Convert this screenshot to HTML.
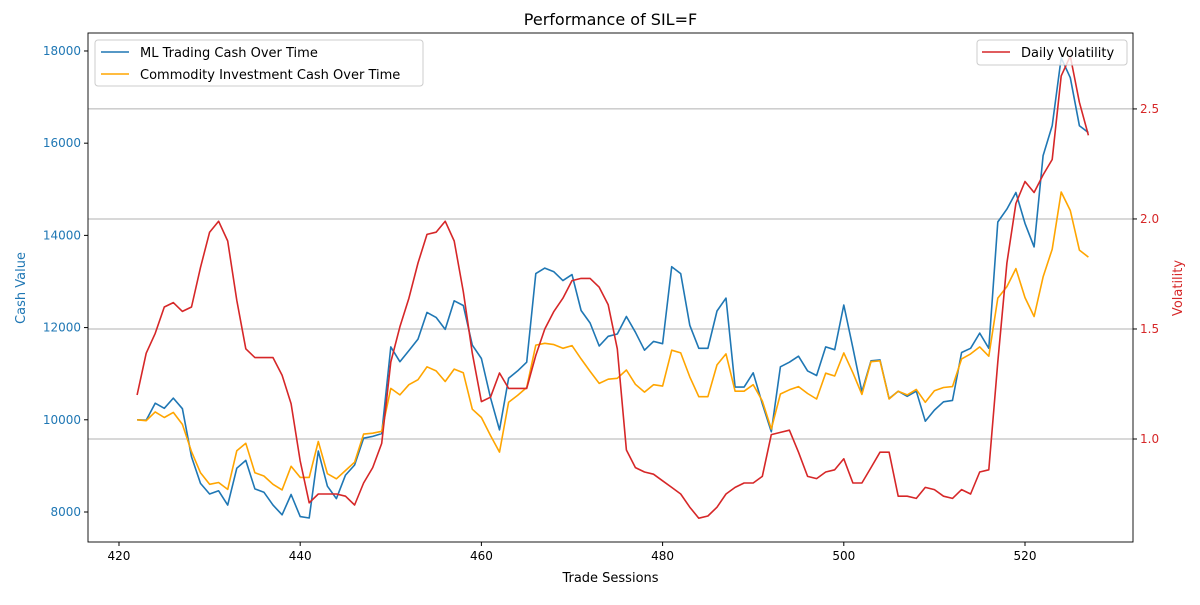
<!DOCTYPE html>
<html><head><meta charset="utf-8"><style>
body{margin:0;background:#fff;font-family:"Liberation Sans","DejaVu Sans",sans-serif}
svg text{font-family:"DejaVu Sans","Liberation Sans",sans-serif}
</style></head><body>
<svg id="chart" width="1200" height="600" xmlns="http://www.w3.org/2000/svg"></svg>
<script>
const startSession = 422;
const mlCash = [10000,9990,10360,10250,10470,10240,9200,8620,8390,8460,8150,8950,9120,8500,8430,8150,7940,8380,7900,7870,9320,8560,8290,8800,9020,9600,9640,9700,11580,11260,11500,11750,12330,12220,11960,12580,12480,11620,11330,10480,9780,10900,11060,11250,13170,13290,13210,13020,13150,12370,12100,11600,11810,11860,12240,11900,11510,11700,11650,13320,13170,12050,11550,11550,12360,12640,10710,10710,11020,10350,9740,11150,11250,11380,11060,10960,11580,11520,12490,11560,10610,11280,11300,10460,10620,10510,10620,9970,10210,10390,10420,11460,11550,11880,11550,14290,14570,14930,14260,13750,15730,16380,17850,17420,16380,16230];
const commodityCash = [10000,9980,10170,10050,10160,9900,9310,8850,8600,8640,8490,9330,9490,8850,8780,8600,8480,8990,8750,8750,9530,8830,8720,8900,9080,9690,9710,9750,10680,10540,10760,10870,11150,11060,10830,11100,11020,10230,10050,9660,9300,10380,10530,10700,11620,11660,11630,11550,11610,11320,11050,10790,10880,10900,11080,10770,10600,10760,10730,11510,11450,10930,10500,10500,11190,11430,10620,10620,10760,10410,9800,10560,10650,10720,10570,10450,11010,10950,11450,11020,10550,11260,11280,10450,10620,10540,10660,10380,10630,10700,10720,11320,11430,11580,11380,12640,12890,13280,12650,12240,13100,13700,14940,14540,13680,13530];
const volatility = [1.20,1.39,1.48,1.60,1.62,1.58,1.60,1.78,1.94,1.99,1.90,1.63,1.41,1.37,1.37,1.37,1.29,1.16,0.90,0.71,0.75,0.75,0.75,0.74,0.70,0.80,0.87,0.98,1.35,1.51,1.64,1.80,1.93,1.94,1.99,1.90,1.67,1.39,1.17,1.19,1.30,1.23,1.23,1.23,1.38,1.50,1.58,1.64,1.72,1.73,1.73,1.69,1.61,1.41,0.95,0.87,0.85,0.84,0.81,0.78,0.75,0.69,0.64,0.65,0.69,0.75,0.78,0.80,0.80,0.83,1.02,1.03,1.04,0.94,0.83,0.82,0.85,0.86,0.91,0.80,0.80,0.87,0.94,0.94,0.74,0.74,0.73,0.78,0.77,0.74,0.73,0.77,0.75,0.85,0.86,1.35,1.80,2.07,2.17,2.12,2.20,2.27,2.65,2.74,2.53,2.38];
const xTicks = [420,440,460,480,500,520];
const yLeftTicks = [8000,10000,12000,14000,16000,18000];
const yRightTicks = [1.0,1.5,2.0,2.5];

const L=88,R=1133,T=33,B=542;
const X=v=>L+(v-416.58)/(531.92-416.58)*(R-L);
const YL=v=>B-(v-7349)/(18390-7349)*(B-T);
const YR=v=>B-(v-0.532)/(2.845-0.532)*(B-T);
const svg=document.getElementById('chart');
const NS='http://www.w3.org/2000/svg';
function mk(tag,attrs,parent){const e=document.createElementNS(NS,tag);for(const k in attrs)e.setAttribute(k,attrs[k]);(parent||svg).appendChild(e);return e;}
function txt(s,attrs){const e=mk('text',attrs);e.textContent=s;return e;}

// grid (right axis)
yRightTicks.forEach(v=>{const g=mk('line',{x1:L,x2:R,y1:YR(v),y2:YR(v),stroke:'#b0b0b0','stroke-width':1});

});

function series(vals,yf,color,name){
  const d=vals.map((v,i)=>(i?'L':'M')+X(startSession+i).toFixed(1)+','+yf(v).toFixed(1)).join('');
  const p=mk('path',{d:d,fill:'none',stroke:color,'stroke-width':1.6,'stroke-linejoin':'round'});
  
  
}
series(mlCash,YL,'#1f77b4','ml-cash-line');
series(commodityCash,YL,'#ffa500','commodity-cash-line');
series(volatility,YR,'#d62728','volatility-line');

mk('rect',{x:L,y:T,width:R-L,height:B-T,fill:'none',stroke:'#000','stroke-width':0.9});

xTicks.forEach(v=>{const x=X(v);mk('line',{x1:x,x2:x,y1:B,y2:B+4,stroke:'#000'});
const t=txt(v,{x:x,y:B+18,'font-size':12,'text-anchor':'middle',fill:'#000'});

});
yLeftTicks.forEach(v=>{const y=YL(v);mk('line',{x1:L-4,x2:L,y1:y,y2:y,stroke:'#000'});
const t=txt(v,{x:L-7,y:y+4,'font-size':12,'text-anchor':'end',fill:'#1f77b4'});

});
yRightTicks.forEach(v=>{const y=YR(v);mk('line',{x1:R,x2:R+4,y1:y,y2:y,stroke:'#000'});
const t=txt(v.toFixed(1),{x:R+7,y:y+4,'font-size':12,'text-anchor':'start',fill:'#d62728'});

});

let t;
t=txt('Performance of SIL=F',{x:(L+R)/2,y:25,'font-size':16,'text-anchor':'middle',fill:'#000'});

t=txt('Trade Sessions',{x:(L+R)/2,y:582,'font-size':13,'text-anchor':'middle',fill:'#000'});

t=txt('Cash Value',{x:0,y:0,'font-size':13,'text-anchor':'middle',fill:'#1f77b4',transform:'translate(25,288) rotate(-90)'});

t=txt('Volatility',{x:0,y:0,'font-size':13,'text-anchor':'middle',fill:'#d62728',transform:'translate(1182,288) rotate(-90)'});


// legends
let lg=mk('g',{});

mk('rect',{x:95,y:40,width:328,height:46,rx:3,fill:'#fff','fill-opacity':0.8,stroke:'#ccc'},lg);
mk('line',{x1:101,x2:129,y1:52,y2:52,stroke:'#1f77b4','stroke-width':1.6},lg);
let e=mk('text',{x:140,y:57,'font-size':13,fill:'#000'},lg);e.textContent='ML Trading Cash Over Time';
mk('line',{x1:101,x2:129,y1:74,y2:74,stroke:'#ffa500','stroke-width':1.6},lg);
e=mk('text',{x:140,y:79,'font-size':13,fill:'#000'},lg);e.textContent='Commodity Investment Cash Over Time';
let lg2=mk('g',{});

mk('rect',{x:977,y:40,width:150,height:25,rx:3,fill:'#fff','fill-opacity':0.8,stroke:'#ccc'},lg2);
mk('line',{x1:982,x2:1010,y1:52,y2:52,stroke:'#d62728','stroke-width':1.6},lg2);
e=mk('text',{x:1021,y:57,'font-size':13,fill:'#000'},lg2);e.textContent='Daily Volatility';
</script>
</body></html>
